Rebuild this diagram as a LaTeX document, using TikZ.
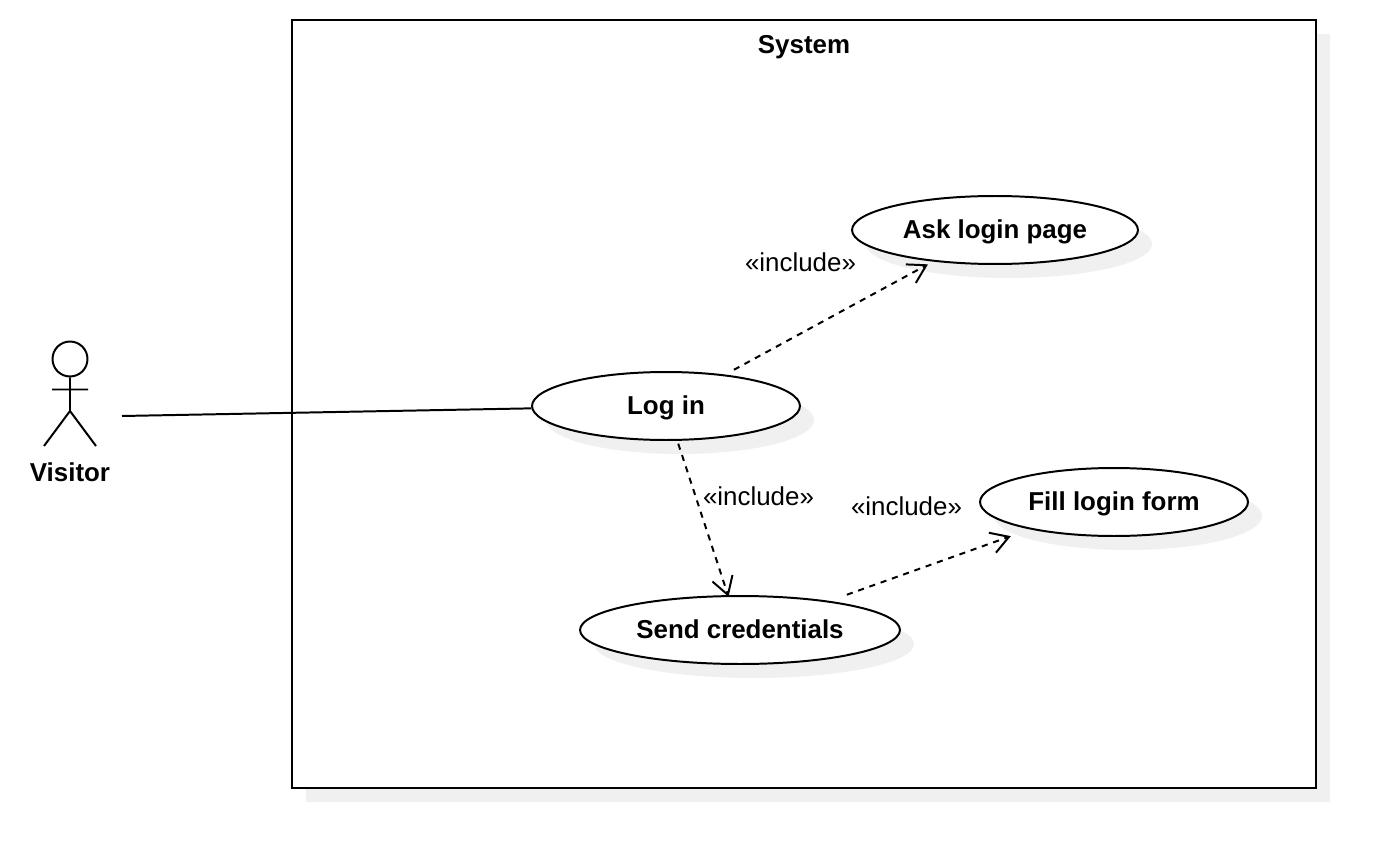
\documentclass[tikz,border=0pt]{standalone}
\usepackage{fontspec}
\setmainfont{Liberation Sans}
\usetikzlibrary{arrows.meta,shapes.geometric,shadows}

\begin{document}
\begin{tikzpicture}[x=0.02cm,y=-0.02cm,line width=1.13pt,
		txt/.style={font=\fontsize{14.74}{17}\selectfont},
		bold/.style={txt,font=\fontsize{14.74}{17}\selectfont\bfseries},
		shade/.style={drop shadow={shadow xshift=0.28cm,shadow yshift=-0.28cm,fill=black!6,opacity=1}},
		usecase/.style={ellipse,draw,fill=white,shade,inner sep=0pt,minimum height=1.36cm,bold,text height=12.9pt,text depth=3pt},
		incl/.style={dash pattern=on 3.5pt off 3.3pt,-{Straight Barb[length=10pt,width=12pt,line width=1.13pt]}}]
		\useasboundingbox (0,0) rectangle (1396,868);
		\node[draw,fill=white,shade,minimum width=20.48cm,minimum height=15.36cm,inner sep=0pt] (system) at (804,404) {};
		\node[bold] (systemlabel) at (804,47) {System};
		% actor
		\node[circle,draw,minimum size=0.7cm,inner sep=0pt] (head) at (70,359) {};
		\coordinate (hip) at (70,411);
		\coordinate (armL) at (52,389.5);
		\coordinate (armR) at (88,389.5);
		\coordinate (footL) at (44,446);
		\coordinate (footR) at (96,446);
		\coordinate (port) at (122,416);
		\draw (head.south) -- (hip) (armL) -- (armR) (footL) -- (hip) -- (footR);
		\node[bold] (visitor) at (70,472) {Visitor};
		% use cases
		\node[usecase,minimum width=5.36cm] (login) at (666,406) {Log in};
		\node[usecase,minimum width=5.72cm] (askpage) at (995,230) {Ask login page};
		\node[usecase,minimum width=5.36cm] (fillform) at (1114,502) {Fill login form};
		\node[usecase,minimum width=6.4cm] (sendcred) at (740,630) {Send credentials};
		% links
		\draw (port) -- (login.181);
		\draw[incl,shorten <=5.7pt,shorten >=3.3pt] (login.28) -- (askpage.207.3);
		\draw[incl,shorten <=1.7pt,shorten >=-1pt] (login.-72) -- (sendcred.109.4);
		\draw[incl,shorten <=10.5pt,shorten >=11.5pt] (sendcred.18.4) -- (fillform.198.3);
		\node[txt] (inclA) at (800.5,262) {«include»};
		\node[txt] (inclB) at (758.5,496) {«include»};
		\node[txt] (inclC) at (906.5,506) {«include»};
\end{tikzpicture}
\end{document}
